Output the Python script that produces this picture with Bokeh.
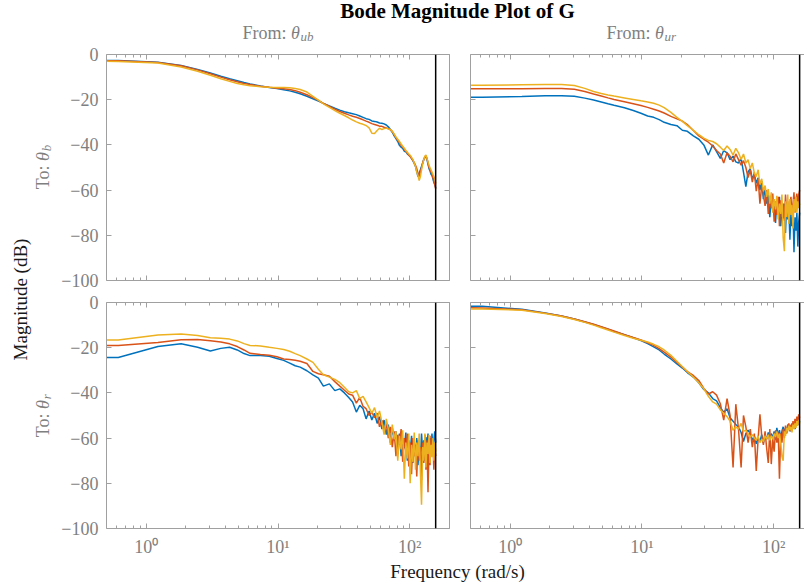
import math
from bokeh.plotting import figure
from bokeh.layouts import row, column
from bokeh.models import Range1d, FixedTicker, Span, Label, LinearAxis, LogAxis
from bokeh.embed import file_html
from bokeh.resources import INLINE

# ---------------- data ----------------
freq = [0.45, 0.614, 1.227, 1.841, 2.454, 3.068, 3.682, 4.295, 4.909, 5.522, 6.136,
        7.363, 8.59, 9.817, 11.04, 12.27, 13.5, 14.73, 16.57, 18.41, 20.25, 22.09,
        24.54, 26.99, 29.45, 31.9, 34.4, 36.8, 39.3, 41.7, 44.2, 46.6, 49.1,
        51.5, 54.0, 56.5, 58.9, 61.4, 63.8, 66.3, 68.7, 71.2, 73.6, 76.1,
        78.5, 81.0, 83.4, 85.9, 88.3, 90.8, 93.3, 95.7, 98.2, 100.6, 103.1,
        105.5, 108.0, 110.4, 112.9, 115.3, 117.8, 120.3, 122.7, 125.2, 127.6, 130.1,
        132.5, 135.0, 137.4, 139.9, 142.3, 144.8, 147.3, 149.7, 152.2, 154.6, 157.1]

# From theta_ub to theta_b
g11_blue = [-2.6, -2.7, -3.4, -4.9, -6.6, -8.2, -9.6, -10.7, -11.6, -12.4, -13.0,
            -13.9, -14.6, -15.1, -15.6, -16.1, -16.7, -17.4, -18.5, -19.6, -20.6, -21.6,
            -22.8, -23.8, -24.6, -25.3, -25.8, -26.2, -26.6, -27.2, -27.8, -28.4, -28.7,
            -29.4, -29.6, -29.9, -30.3, -30.4, -30.7, -31.2, -32.0, -33.2, -34.4, -36.0,
            -37.2, -38.5, -40.2, -41.0, -41.5, -42.8, -43.0, -44.0, -44.5, -45.0, -46.0,
            -47.0, -48.2, -49.5, -51.8, -54.0, -52.5, -51.0, -49.5, -48.0, -46.5, -45.5,
            -45.0, -46.5, -48.5, -50.5, -51.5, -53.0, -53.5, -55.0, -56.5, -57.5, -59.0]
g11_red = [-2.7, -2.8, -3.5, -5.0, -6.8, -8.5, -10.0, -11.2, -12.1, -12.8, -13.3,
           -14.0, -14.5, -14.9, -15.2, -15.5, -16.0, -16.7, -17.8, -19.1, -20.3, -21.6,
           -23.0, -24.2, -25.2, -26.0, -26.7, -27.3, -27.8, -28.3, -28.9, -29.5, -30.0,
           -30.6, -31.0, -31.3, -31.7, -31.8, -32.2, -32.5, -32.8, -33.3, -34.0, -35.5,
           -36.8, -38.0, -39.0, -40.2, -41.0, -42.0, -42.8, -43.6, -44.5, -45.2, -46.0,
           -46.8, -47.8, -49.0, -50.5, -52.5, -54.0, -52.0, -50.0, -48.0, -46.5, -45.2,
           -44.8, -46.0, -48.0, -50.0, -51.0, -52.0, -53.0, -54.5, -56.0, -57.5, -59.5]
g11_yellow = [-3.0, -3.1, -3.8, -5.5, -7.4, -9.2, -10.7, -11.9, -12.8, -13.4, -13.8,
              -14.3, -14.5, -14.6, -14.6, -14.7, -15.0, -15.5, -16.6, -18.5, -20.2, -21.8,
              -23.4, -24.8, -26.0, -27.0, -28.0, -29.0, -29.8, -30.4, -30.9, -31.4, -32.5,
              -34.8, -35.0, -33.6, -32.6, -33.2, -32.8, -32.6, -33.0, -33.2, -34.0, -35.2,
              -36.5, -37.5, -38.5, -39.6, -40.6, -41.5, -42.5, -43.2, -44.0, -44.6, -45.5,
              -46.5, -48.0, -49.5, -52.0, -53.5, -55.8, -54.0, -51.0, -48.5, -46.5, -45.0,
              -44.5, -46.0, -47.5, -49.0, -50.2, -51.0, -52.0, -53.0, -54.0, -55.0, -57.0]

# From theta_ur to theta_b
g12_blue = [-18.9, -18.9, -18.6, -18.3, -18.2, -18.5, -19.3, -20.1, -21.0, -21.8, -22.5,
            -23.6, -24.8, -26.0, -27.2, -27.8, -28.8, -30.0, -31.0, -31.5, -33.5, -34.0,
            -36.0, -37.5, -40.0, -44.5, -40.0, -43.0, -46.0, -42.5, -43.5, -46.5, -45.0,
            -47.5, -48.0, -46.0, -52.0, -58.5, -52.0, -50.5, -55.0, -53.0, -57.0, -54.5,
            -60.0, -56.0, -64.0, -59.5, -66.0, -62.0, -72.0, -63.5, -69.0, -65.0, -74.5,
            -64.0, -70.0, -63.0, -76.0, -67.0, -72.5, -66.0, -79.0, -65.5, -73.0, -68.0,
            -82.0, -70.0, -76.0, -69.0, -87.5, -72.0, -78.0, -70.0, -85.0, -74.0, -70.0]
g12_red = [-15.2, -15.2, -15.1, -15.0, -15.0, -15.4, -16.4, -17.5, -18.4, -19.2, -19.9,
           -20.9, -21.8, -22.6, -23.4, -24.2, -25.0, -25.9, -27.4, -28.5, -29.5, -31.0,
           -33.6, -36.0, -37.5, -38.8, -40.5, -42.5, -44.0, -48.0, -43.5, -45.0, -47.5,
           -44.0, -46.5, -49.0, -47.0, -50.0, -54.5, -51.0, -56.5, -52.0, -60.5, -55.0,
           -66.0, -58.0, -62.0, -67.0, -60.0, -70.5, -63.0, -68.0, -61.5, -74.0, -65.0,
           -71.0, -63.0, -76.0, -64.5, -72.0, -66.0, -73.5, -62.0, -70.0, -65.0, -74.5,
           -67.0, -63.0, -72.0, -66.0, -61.0, -70.0, -64.5, -61.5, -67.0, -62.0, -60.0]
g12_yellow = [-13.6, -13.6, -13.4, -13.3, -13.3, -13.7, -15.0, -16.4, -17.3, -17.9, -18.4,
              -19.2, -19.9, -20.5, -21.0, -21.6, -22.4, -23.5, -25.6, -27.8, -29.6, -31.5,
              -33.6, -35.5, -37.0, -38.0, -38.5, -39.5, -41.0, -42.5, -40.5, -42.0, -44.5,
              -41.5, -43.5, -46.5, -44.0, -48.0, -46.5, -50.5, -48.0, -52.5, -54.0, -51.0,
              -57.5, -55.0, -60.5, -58.0, -63.0, -59.5, -66.0, -61.0, -70.0, -64.0, -68.5,
              -62.5, -73.0, -66.0, -70.5, -62.0, -81.0, -87.0, -65.0, -72.0, -62.0, -75.0,
              -64.0, -71.0, -66.5, -77.0, -64.0, -69.5, -63.0, -70.0, -65.0, -68.0, -66.0]

# From theta_ub to theta_r
g21_blue = [-24.3, -24.3, -19.5, -18.3, -19.8, -21.5, -20.3, -19.8, -21.0, -22.6, -23.5,
            -23.5, -23.8, -24.8, -25.6, -26.8, -28.0, -28.6, -30.2, -32.0, -33.5, -37.0,
            -36.0, -39.0, -38.2, -40.0, -42.0, -44.0, -48.5, -45.5, -47.0, -51.5, -48.0,
            -52.0, -49.0, -53.5, -50.5, -56.0, -52.0, -58.5, -54.0, -62.0, -55.5, -61.0,
            -57.0, -65.5, -58.0, -68.0, -60.0, -64.5, -57.5, -70.0, -61.0, -66.0, -59.0,
            -71.0, -62.0, -68.5, -60.0, -72.0, -63.0, -69.0, -58.0, -66.0, -61.0, -70.0,
            -59.5, -64.0, -58.0, -66.5, -60.0, -64.0, -58.0, -67.0, -61.0, -57.0, -62.0]
g21_red = [-19.0, -19.0, -17.7, -16.5, -16.4, -16.9, -17.5, -18.3, -19.5, -21.0, -22.5,
           -23.0, -23.3, -24.0, -25.0, -25.2, -25.6, -26.0, -27.0, -30.5, -31.5, -32.0,
           -32.6, -35.0, -37.0, -38.8, -40.5, -41.0, -44.5, -42.0, -46.0, -47.0, -50.0,
           -48.5, -51.0, -49.0, -55.0, -52.0, -57.0, -53.5, -60.0, -55.0, -64.0, -57.0,
           -68.0, -58.5, -63.0, -56.0, -70.5, -60.0, -66.0, -58.0, -72.5, -62.0, -76.0,
           -60.0, -68.0, -63.0, -77.0, -61.0, -70.0, -64.0, -78.5, -62.0, -71.0, -58.5,
           -74.0, -61.0, -84.0, -63.0, -72.0, -59.0, -66.0, -62.0, -74.0, -64.0, -68.0]
g21_yellow = [-16.6, -16.6, -14.4, -13.9, -14.6, -15.6, -15.8, -16.2, -17.0, -18.2, -19.0,
              -19.2, -19.8, -20.3, -20.8, -21.6, -22.6, -23.5, -25.0, -26.5, -29.5, -32.0,
              -33.0, -34.0, -35.5, -37.5, -39.5, -40.0, -39.0, -42.5, -41.5, -44.0, -46.5,
              -49.0, -46.5, -51.0, -48.0, -53.0, -58.5, -51.5, -56.0, -63.0, -54.0, -60.5,
              -57.0, -70.0, -59.0, -65.0, -56.5, -78.0, -62.0, -69.0, -58.0, -80.0, -63.0,
              -70.5, -57.5, -74.0, -62.0, -68.0, -58.0, -75.0, -89.5, -64.0, -70.0, -58.0,
              -73.0, -62.0, -67.0, -58.5, -71.0, -63.0, -68.5, -60.0, -70.0, -62.0, -66.0]

# From theta_ur to theta_r
g22_blue = [-1.6, -1.7, -3.0, -4.6, -6.0, -7.3, -8.6, -9.7, -10.8, -11.8, -12.8,
            -14.3, -15.6, -16.8, -18.2, -19.6, -21.0, -22.8, -25.0, -27.2, -29.0, -31.0,
            -33.0, -35.5, -38.5, -40.0, -42.5, -43.5, -46.5, -48.5, -47.0, -51.0, -52.5,
            -54.0, -55.0, -57.5, -61.5, -58.0, -56.5, -58.0, -61.0, -59.0, -62.5, -60.0,
            -61.5, -58.5, -62.0, -59.0, -60.5, -57.5, -61.0, -58.0, -60.0, -57.0, -60.5,
            -55.5, -59.0, -56.5, -60.0, -57.0, -55.0, -58.0, -55.5, -57.5, -54.0, -56.0,
            -54.5, -57.0, -53.5, -55.5, -53.0, -56.0, -52.5, -54.5, -52.0, -54.0, -52.5]
g22_red = [-2.3, -2.4, -3.2, -4.7, -6.0, -7.3, -8.5, -9.6, -10.7, -11.7, -12.6,
           -14.2, -15.5, -16.6, -17.8, -19.0, -20.4, -22.0, -24.2, -26.5, -28.6, -30.6,
           -32.3, -34.5, -38.0, -40.5, -39.5, -41.0, -44.8, -52.0, -42.5, -50.0, -73.0,
           -45.0, -56.0, -73.0, -50.0, -55.0, -62.0, -56.0, -64.0, -58.0, -74.5, -60.0,
           -49.5, -59.0, -63.0, -57.0, -64.5, -71.0, -56.0, -71.5, -60.0, -66.0, -56.5,
           -62.0, -57.5, -78.0, -58.0, -62.0, -56.0, -60.0, -54.5, -58.0, -55.0, -53.5,
           -57.0, -54.0, -56.5, -52.5, -55.5, -51.5, -54.5, -50.5, -53.0, -49.5, -51.0]
g22_yellow = [-2.8, -2.9, -3.4, -4.9, -6.2, -7.5, -8.8, -10.0, -11.2, -12.2, -13.1,
              -14.6, -15.8, -16.7, -17.5, -18.5, -19.6, -21.0, -23.4, -26.0, -28.4, -30.5,
              -33.0, -35.5, -38.2, -41.5, -44.0, -45.0, -47.5, -49.0, -50.5, -52.5, -56.5,
              -55.0, -56.0, -53.5, -57.0, -56.5, -58.0, -59.5, -58.5, -60.0, -61.0, -59.0,
              -62.0, -60.5, -61.5, -59.0, -60.5, -58.5, -61.0, -59.0, -60.5, -58.0, -59.5,
              -57.0, -60.0, -58.0, -62.0, -68.0, -70.0, -57.0, -59.0, -55.5, -57.0, -54.5,
              -56.5, -55.0, -57.5, -54.0, -56.0, -53.5, -55.5, -52.5, -54.5, -52.0, -53.5]

nyquist = 157.08
x_ticks = [1, 10, 100]
x_minor = [0.6, 0.7, 0.8, 0.9, 2, 3, 4, 5, 6, 7, 8, 9, 20, 30, 40, 50, 60, 70, 80, 90, 200]
x_tick_labels = {1: "10\u2070", 10: "10\u00b9", 100: "10\u00b2"}
y_ticks = [-100, -80, -60, -40, -20, 0]
y_tick_labels = {-100: "\u2212100", -80: "\u221280", -60: "\u221260",
                 -40: "\u221240", -20: "\u221220", 0: "0"}

title_text = "Bode Magnitude Plot of G"
input_subs = ["ub", "ur"]      # From: theta_ub, theta_ur
output_subs = ["b", "r"]       # To: theta_b, theta_r
xlabel_text = "Frequency (rad/s)"
ylabel_text = "Magnitude (dB)"

# ---------------- style ----------------
COLORS = ["#0072BD", "#D95319", "#EDB120"]
FONT = "Liberation Serif"
GRAY = "#7f7f7f"
AXIS = "#a0a0a0"
DARK = "#1a1a1a"
X_START, X_END = 0.5, 200
X_END_CUT = 171.0     # right column is cropped by the window edge in the reference
Y_MIN, Y_MAX = -100, 0


def style_axis(ax, ticks, minor, labels, show):
    ax.ticker = FixedTicker(ticks=ticks, minor_ticks=minor)
    ax.axis_line_color = AXIS
    ax.axis_line_width = 1
    ax.major_tick_in = 5
    ax.major_tick_out = 0
    ax.minor_tick_in = 3
    ax.minor_tick_out = 0
    ax.major_tick_line_color = AXIS
    ax.minor_tick_line_color = AXIS if minor else None
    ax.major_label_text_font = FONT
    ax.major_label_text_color = GRAY
    if show:
        ax.major_label_overrides = labels
        ax.major_label_text_font_size = "18px"
        ax.major_label_standoff = 8
    else:
        ax.major_label_overrides = {k: "" for k in labels}
        ax.major_label_text_font_size = "1px"
        ax.major_label_standoff = 0


def panel(width, height, borders, x_end, series, show_x, show_y, right_axis):
    left, right, top, bottom = borders
    p = figure(width=width, height=height, x_axis_type="log",
               x_range=Range1d(X_START, x_end), y_range=Range1d(Y_MIN, Y_MAX),
               output_backend="svg", toolbar_location=None,
               min_border_left=left, min_border_right=right,
               min_border_top=top, min_border_bottom=bottom)
    p.outline_line_color = None
    p.xgrid.grid_line_color = None
    p.ygrid.grid_line_color = None
    p.border_fill_color = "white"
    style_axis(p.xaxis[0], x_ticks, x_minor, x_tick_labels, show_x)
    style_axis(p.yaxis[0], y_ticks, [], y_tick_labels, show_y)
    top_ax = LogAxis()
    style_axis(top_ax, x_ticks, x_minor, x_tick_labels, False)
    p.add_layout(top_ax, "above")
    if right_axis:
        r_ax = LinearAxis()
        style_axis(r_ax, y_ticks, [], y_tick_labels, False)
        p.add_layout(r_ax, "right")
    for vals, c in zip(series, COLORS):
        p.line(freq, vals, line_color=c, line_width=1.5)
    p.add_layout(Span(location=nyquist, dimension="height",
                      line_color="black", line_width=1.5))
    return p


def text_fig(width, height):
    f = figure(width=width, height=height, x_range=Range1d(0, width), y_range=Range1d(0, height),
               output_backend="svg", toolbar_location=None,
               x_axis_location=None, y_axis_location=None, min_border=0)
    f.outline_line_color = None
    f.xgrid.grid_line_color = None
    f.ygrid.grid_line_color = None
    return f


def from_label(f, x, y, sub):
    # "From: θ_sub", centred on x, baseline y
    common = dict(x=x, y=y, text_font=FONT, text_color=GRAY, text_baseline="alphabetic")
    f.add_layout(Label(text="From:", text_align="right", x_offset=8.4,
                       text_font_size="18px", **common))
    f.add_layout(Label(text="\u03b8", text_align="left", x_offset=13.0,
                       text_font_size="18px", text_font_style="italic", **common))
    f.add_layout(Label(text=sub, text_align="left", x_offset=22.5, y_offset=-3.5,
                       text_font_size="13px", text_font_style="italic", **common))


def to_label(f, x, y, sub):
    # rotated "To: θ_sub", centred on y, baseline x
    common = dict(x=x, y=y, text_font=FONT, text_color=GRAY,
                  text_baseline="alphabetic", angle=math.pi / 2)
    f.add_layout(Label(text="To:", text_align="right", y_offset=2.0,
                       text_font_size="18px", **common))
    f.add_layout(Label(text="\u03b8", text_align="left", y_offset=6.6,
                       text_font_size="18px", text_font_style="italic", **common))
    f.add_layout(Label(text=sub, text_align="left", y_offset=16.3, x_offset=4,
                       text_font_size="13px", text_font_style="italic", **common))


# panels (top row: 10 px top border so the "0" tick label is not clipped)
p11 = panel(403, 247, (50, 10, 10, 11), X_END, [g11_blue, g11_red, g11_yellow], False, True, True)
p12 = panel(345, 247, (11, 0, 10, 11), X_END_CUT, [g12_blue, g12_red, g12_yellow], False, False, False)
p21 = panel(403, 269, (50, 10, 11, 32), X_END, [g21_blue, g21_red, g21_yellow], True, True, True)
p22 = panel(345, 269, (11, 0, 11, 32), X_END_CUT, [g22_blue, g22_red, g22_yellow], True, False, False)

# header: title + column titles
header = text_fig(804, 44)
header.add_layout(Label(x=457, y=34, text=title_text, text_align="center",
                        text_baseline="middle", text_font=FONT, text_font_size="21px",
                        text_font_style="bold", text_color="black"))
from_label(header, 277.5, 12, input_subs[0])
from_label(header, 641.5, 12, input_subs[1])

# left strip: y label + row titles
ylab = text_fig(56, 516)
ylab.add_layout(Label(x=20, y=261, text=ylabel_text, text_align="center",
                      text_baseline="middle", angle=math.pi / 2, text_font=FONT,
                      text_font_size="19px", text_color=DARK))
to_label(ylab, 42, 393, output_subs[0])
to_label(ylab, 42, 145, output_subs[1])

# bottom: x label
xlab = text_fig(804, 23)
xlab.add_layout(Label(x=457, y=12, text=xlabel_text, text_align="center",
                      text_baseline="middle", text_font=FONT, text_font_size="19px",
                      text_color=DARK))

layout = column(header,
                row(ylab, column(row(p11, p12), row(p21, p22))),
                xlab)

open("out.html", "w").write(file_html(layout, INLINE))
